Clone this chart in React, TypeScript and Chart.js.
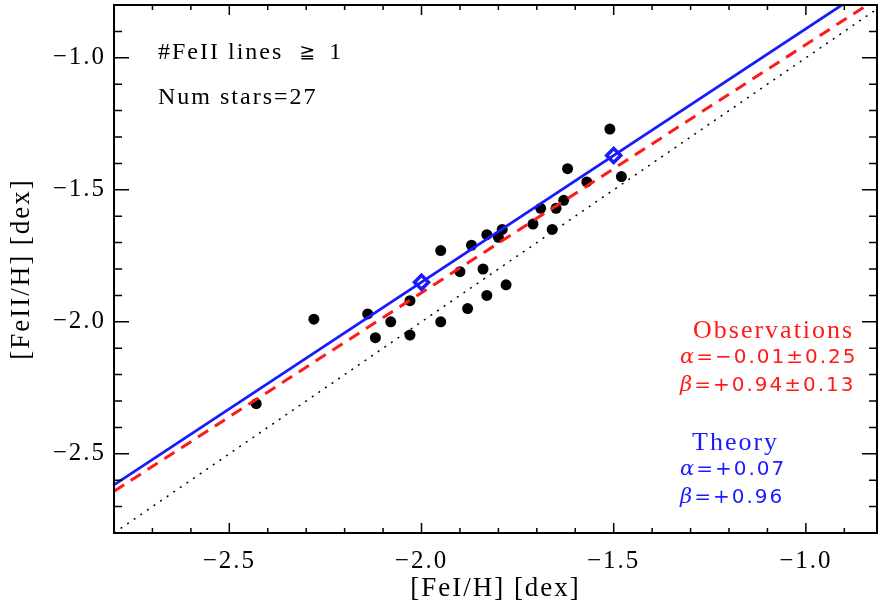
import React, { useEffect, useRef } from "react";
import { Chart, registerables } from "chart.js";

Chart.register(...registerables);

// Observed stars: [FeI/H] and [FeII/H]
const feI = [
  -2.28, -2.14, -2.12, -2.08, -2.03, -2.03, -1.95, -1.95, -1.90, -1.87,
  -1.88, -1.84, -1.83, -1.83, -1.80, -1.79, -1.78, -1.71, -1.69, -1.66,
  -1.65, -1.63, -1.62, -1.57, -1.51, -1.48, -2.43,
];
const feII = [
  -1.99, -1.97, -2.06, -2.00, -1.92, -2.05, -1.73, -2.00, -1.81, -1.71,
  -1.95, -1.80, -1.67, -1.90, -1.68, -1.65, -1.86, -1.63, -1.57, -1.65,
  -1.57, -1.54, -1.42, -1.47, -1.27, -1.45, -2.31,
];

// Theory markers
const theoryX = [-2.0, -1.5];
const theoryY = [-1.85, -1.37];

// Line end points (x from axis min to axis max)
const lineX = [-2.8, -0.815];
const theoryLineY = [-2.618, -0.7124]; // alpha=+0.07, beta=+0.96
const obsLineY = [-2.642, -0.7761]; // alpha=-0.01, beta=+0.94
const oneToOneY = [-2.8, -0.815];

const xMin = -2.8;
const xMax = -0.815;
const yMin = -2.8;
const yMax = -0.8;

const xMajor = [-2.5, -2.0, -1.5, -1.0];
const yMajor = [-2.5, -2.0, -1.5, -1.0];
const xMinor = [-2.7, -2.6, -2.4, -2.3, -2.2, -2.1, -1.9, -1.8, -1.7, -1.6, -1.4, -1.3, -1.2, -1.1, -0.9];
const yMinor = [-2.7, -2.6, -2.4, -2.3, -2.2, -2.1, -1.9, -1.8, -1.7, -1.6, -1.4, -1.3, -1.2, -1.1, -0.9];

const fmt = (v: number) => v.toFixed(1).replace("-", "\u2212");

const RED = "#ff1a1a";
const BLUE = "#1a1aff";

const spacingPlugin = {
  id: "spacing",
  beforeDraw(chart: any) {
    chart.ctx.letterSpacing = "2px";
  },
  afterDraw(chart: any) {
    chart.ctx.letterSpacing = "0px";
  },
};

const framePlugin = {
  id: "frame",
  afterDatasetsDraw(chart: any) {
    const { ctx, chartArea: a, scales } = chart;
    const x = scales.x;
    const y = scales.y;
    ctx.save();
    ctx.strokeStyle = "#000";
    ctx.lineWidth = 1.5;
    ctx.beginPath();
    const xt = (vals: number[], len: number) => {
      for (const v of vals) {
        const px = x.getPixelForValue(v);
        ctx.moveTo(px, a.bottom);
        ctx.lineTo(px, a.bottom - len);
        ctx.moveTo(px, a.top);
        ctx.lineTo(px, a.top + len);
      }
    };
    const yt = (vals: number[], len: number) => {
      for (const v of vals) {
        const py = y.getPixelForValue(v);
        ctx.moveTo(a.left, py);
        ctx.lineTo(a.left + len, py);
        ctx.moveTo(a.right, py);
        ctx.lineTo(a.right - len, py);
      }
    };
    xt(xMajor, 10);
    xt(xMinor, 5);
    yt(yMajor, 15);
    yt(yMinor, 8);
    ctx.stroke();
    ctx.lineWidth = 2;
    ctx.strokeRect(a.left, a.top, a.right - a.left, a.bottom - a.top);
    ctx.restore();
  },
};

type Seg = { t: string; f: string; gap?: number };

const drawSegs = (ctx: CanvasRenderingContext2D, segs: Seg[], x: number, y: number, color: string) => {
  ctx.fillStyle = color;
  ctx.textBaseline = "middle";
  ctx.textAlign = "left";
  let cx = x;
  for (const s of segs) {
    ctx.font = s.f;
    ctx.fillText(s.t, cx, y);
    cx += ctx.measureText(s.t).width + (s.gap || 0);
  }
};

const textPlugin = {
  id: "notes",
  afterDatasetsDraw(chart: any) {
    const { ctx } = chart;
    ctx.save();
    ctx.letterSpacing = "2px";
    const serif = "24px 'Liberation Serif'";
    drawSegs(
      ctx,
      [
        { t: "#FeII lines", f: serif, gap: 16 },
        { t: "\u2267", f: "19px 'DejaVu Sans'", gap: 12 },
        { t: "1", f: serif },
      ],
      158,
      53,
      "#000"
    );
    drawSegs(ctx, [{ t: "Num stars=27", f: serif }], 158, 98, "#000");

    const title = "26px 'Liberation Serif'";
    const greek = "italic 21px 'DejaVu Serif'";
    const num = "20px 'DejaVu Sans'";
    drawSegs(ctx, [{ t: "Observations", f: title }], 693, 331, RED);
    drawSegs(ctx, [{ t: "\u03b1", f: greek }, { t: "=\u22120.01\u00b10.25", f: num }], 680, 358, RED);
    drawSegs(ctx, [{ t: "\u03b2", f: greek }, { t: "=+0.94\u00b10.13", f: num }], 680, 386, RED);
    drawSegs(ctx, [{ t: "Theory", f: title }], 692, 443, BLUE);
    drawSegs(ctx, [{ t: "\u03b1", f: greek }, { t: "=+0.07", f: num }], 680, 470, BLUE);
    drawSegs(ctx, [{ t: "\u03b2", f: greek }, { t: "=+0.96", f: num }], 680, 498, BLUE);
    ctx.restore();
  },
};

export default function App() {
  const ref = useRef<HTMLCanvasElement | null>(null);

  useEffect(() => {
    if (!ref.current) return;
    const pts = feI.map((v, i) => ({ x: v, y: feII[i] }));
    const chart = new Chart(ref.current, {
      type: "scatter",
      data: {
        datasets: [
          {
            label: "stars",
            data: pts,
            backgroundColor: "#000",
            borderColor: "#000",
            pointRadius: 5.5,
            pointBorderWidth: 0,
            order: 3,
          } as any,
          {
            label: "1:1",
            data: lineX.map((v, i) => ({ x: v, y: oneToOneY[i] })),
            showLine: true,
            borderColor: "#000",
            borderWidth: 1.5,
            borderDash: [2, 6],
            pointRadius: 0,
            order: 2,
          },
          {
            label: "observations",
            data: lineX.map((v, i) => ({ x: v, y: obsLineY[i] })),
            showLine: true,
            borderColor: RED,
            borderWidth: 3,
            borderDash: [12, 8],
            pointRadius: 0,
            order: 1,
          },
          {
            label: "theory",
            data: lineX.map((v, i) => ({ x: v, y: theoryLineY[i] })),
            showLine: true,
            borderColor: BLUE,
            borderWidth: 2.8,
            pointRadius: 0,
            order: 0,
          },
          {
            label: "theory points",
            data: theoryX.map((v, i) => ({ x: v, y: theoryY[i] })),
            pointStyle: "rectRot",
            pointRadius: 7,
            pointBorderWidth: 3.5,
            borderColor: BLUE,
            backgroundColor: "rgba(0,0,0,0)",
            order: -1,
          } as any,
        ],
      },
      options: {
        animation: false,
        responsive: false,
        devicePixelRatio: 1,
        layout: { autoPadding: false, padding: { top: 5, right: 1, left: 0, bottom: 0 } },
        plugins: {
          legend: { display: false },
          tooltip: { enabled: false },
        },
        scales: {
          x: {
            type: "linear",
            min: xMin,
            max: xMax,
            grid: { display: false, drawTicks: false },
            border: { display: false },
            afterBuildTicks: (s: any) => {
              s.ticks = xMajor.map((v) => ({ value: v }));
            },
            afterFit: (s: any) => {
              s.height = 73;
              s.paddingLeft = 0;
              s.paddingRight = 0;
              s.paddingTop = 0;
              s.paddingBottom = 0;
            },
            ticks: {
              autoSkip: false,
              maxRotation: 0,
              padding: 13,
              color: "#000",
              font: { family: "'Liberation Serif'", size: 25 },
              callback: (v: any) => fmt(Number(v)),
            },
            title: {
              display: true,
              text: "[FeI/H] [dex]",
              color: "#000",
              font: { family: "'Liberation Serif'", size: 27 },
              padding: { top: 0, bottom: 1 },
            },
          },
          y: {
            type: "linear",
            min: yMin,
            max: yMax,
            grid: { display: false, drawTicks: false },
            border: { display: false },
            afterBuildTicks: (s: any) => {
              s.ticks = yMajor.map((v) => ({ value: v }));
            },
            afterFit: (s: any) => {
              s.width = 114;
              s.paddingLeft = 0;
              s.paddingRight = 0;
              s.paddingTop = 0;
              s.paddingBottom = 0;
            },
            ticks: {
              autoSkip: false,
              padding: 8,
              color: "#000",
              font: { family: "'Liberation Serif'", size: 25 },
              callback: (v: any) => fmt(Number(v)),
            },
            title: {
              display: true,
              text: "[FeII/H] [dex]",
              color: "#000",
              font: { family: "'Liberation Serif'", size: 27 },
              padding: { top: 6, bottom: 0 },
            },
          },
        },
      },
      plugins: [spacingPlugin, framePlugin, textPlugin],
    });
    return () => chart.destroy();
  }, []);

  return (
    <div style={{ position: "absolute", left: 0, top: 0, width: 878, height: 606, background: "#fff" }}>
      <canvas ref={ref} width={878} height={606} style={{ width: 878, height: 606 }} />
    </div>
  );
}
